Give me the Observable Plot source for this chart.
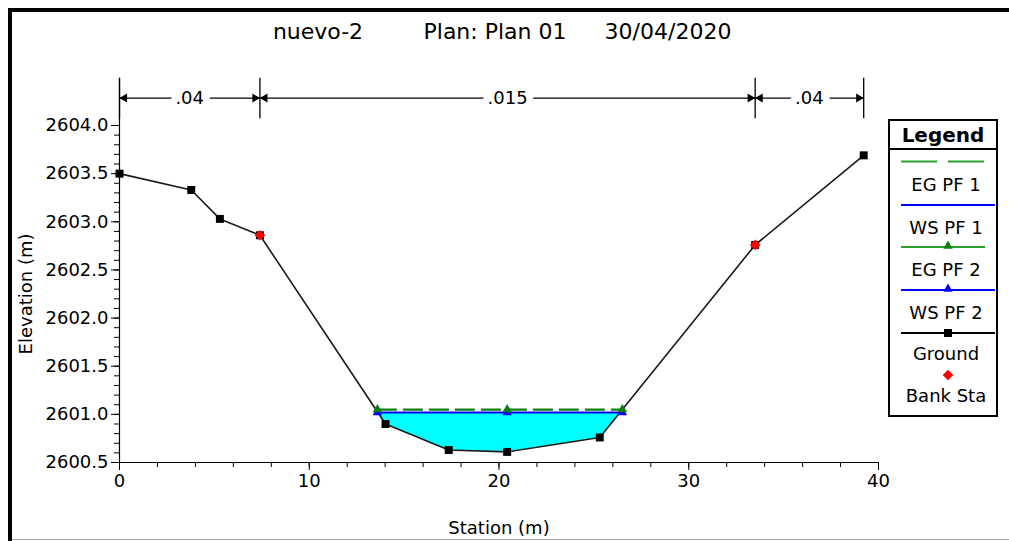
<!DOCTYPE html>
<html><head><meta charset="utf-8">
<script src="https://cdn.jsdelivr.net/npm/d3@7"></script>
<script src="https://cdn.jsdelivr.net/npm/@observablehq/plot@0.6"></script>
<style>
body{margin:0;background:#fff;font-family:"DejaVu Sans",sans-serif;}
#wrap{position:relative;width:1009px;height:541px;overflow:hidden;background:#fff;}
#chart{position:absolute;left:0;top:0;}
.t{position:absolute;top:31px;transform:translate(-50%,-50%);font-size:22px;white-space:pre;color:#000;}
#bl{position:absolute;left:8px;top:8px;width:4px;height:541px;background:#000;}
#bt{position:absolute;left:8px;top:8px;width:1001px;height:4px;background:#000;}
#bb{position:absolute;left:12px;top:539px;width:997px;height:1px;background:#aaa;}
#legend{position:absolute;left:888px;top:119px;}
</style></head><body>
<div id="wrap">
  <div id="chart"></div>
  <div class="t" style="left:318px">nuevo-2</div>
  <div class="t" style="left:495px">Plan: Plan 01</div>
  <div class="t" style="left:668px">30/04/2020</div>
  <svg id="legend" width="112" height="300"></svg>
  <div id="bl"></div><div id="bt"></div><div id="bb"></div>
</div>
<script>
// ---- data ----
const groundStation = [0, 3.78, 5.29, 7.4, 14.02, 17.35, 20.43, 25.31, 33.5, 39.22];
const groundElev    = [2603.50, 2603.33, 2603.03, 2602.86, 2600.90, 2600.63, 2600.61, 2600.76, 2602.76, 2603.69];
const bankStation   = [7.4, 33.5];
const bankElev      = [2602.86, 2602.76];
const wsElev = 2601.02;   // WS PF 1 / WS PF 2
const egElev = 2601.05;   // EG PF 1 / EG PF 2
const waterEdges = [13.59, 26.5];
const profileMarkStations = [13.59, 20.43, 26.5];
const nBreaks = [0, 7.4, 33.5, 39.22];
const nValues = [".04", ".015", ".04"];
const xTicks = [0, 10, 20, 30, 40];
const xMinor = [0, 2, 4, 6, 8, 10, 12, 14, 16, 18, 20, 22, 24, 26, 28, 30, 32, 34, 36, 38, 40];
const yTicks = [2600.5, 2601.0, 2601.5, 2602.0, 2602.5, 2603.0, 2603.5, 2604.0];
const yMinor = d3.range(26005, 26041).map(d => d / 10);

// ---- derived tables ----
const ground = groundStation.map((x, i) => ({x, y: groundElev[i]}));
const banks = bankStation.map((x, i) => ({x, y: bankElev[i]}));
const water = [
  {x: waterEdges[0], bed: wsElev},
  ...ground.filter(d => d.x > waterEdges[0] && d.x < waterEdges[1]).map(d => ({x: d.x, bed: d.y})),
  {x: waterEdges[1], bed: wsElev}
];
const marks = profileMarkStations.map(x => ({x}));
const segs = nValues.map((t, i) => ({a: nBreaks[i], b: nBreaks[i + 1], m: (nBreaks[i] + nBreaks[i + 1]) / 2, t}));
const yTop = 2604.0;
const annTop = yTop + 0.49, annBottom = yTop + 0.07, annArrow = yTop + 0.285;

const chart = Plot.plot({
  width: 1009, height: 541,
  marginLeft: 119, marginRight: 131, marginTop: 125, marginBottom: 79,
  x: {domain: [0, 40]},
  y: {domain: [2600.5, yTop]},
  style: {fontFamily: "DejaVu Sans", fontSize: "18px", color: "#000", background: "transparent", overflow: "visible"},
  marks: [
    Plot.areaY(water, {x: "x", y1: "bed", y2: () => wsElev, fill: "#00ffff", fillOpacity: 1}),
    Plot.line(ground, {x: "x", y: "y", stroke: "#1a1a1a", strokeWidth: 1.6}),
    Plot.ruleY([wsElev], {x1: waterEdges[0], x2: waterEdges[1], stroke: "#0000ff", strokeWidth: 2}),
    Plot.ruleY([egElev], {x1: waterEdges[0], x2: waterEdges[1], stroke: "#0f800f", strokeWidth: 2.2, strokeDasharray: "20,6"}),
    Plot.dot(marks, {x: "x", y: () => wsElev, symbol: "triangle", r: 3.5, fill: "#0000ff", stroke: "none"}),
    Plot.dot(marks, {x: "x", y: () => egElev, symbol: "triangle", r: 3.5, fill: "#0a7f0a", stroke: "none"}),
    Plot.dot(ground, {x: "x", y: "y", symbol: "square", r: 4.5, fill: "#000", stroke: "none"}),
    Plot.dot(banks, {x: "x", y: "y", symbol: "diamond2", r: 4.8, fill: "#ff0000", stroke: "none"}),
    // axes
    Plot.ruleY([2600.5], {stroke: "#000", strokeWidth: 1.2}),
    Plot.ruleX([0], {y1: () => 2600.5, y2: () => annTop, stroke: "#000", strokeWidth: 1.2}),
    Plot.axisX(xTicks, {tickSize: 8, tickPadding: 4, fontSize: 18, label: "Station (m)", labelAnchor: "center", labelOffset: 71, labelArrow: "none"}),
    Plot.axisX(xMinor, {tickSize: 5, text: null, label: null}),
    Plot.axisY(yTicks, {tickSize: 8, tickPadding: 3, fontSize: 18, tickFormat: d => d.toFixed(1), label: "Elevation (m)", labelAnchor: "center", labelOffset: 100, labelArrow: "none"}),
    Plot.axisY(yMinor, {tickSize: 5, text: null, label: null}),
    // Manning's n annotation
    Plot.ruleX(nBreaks, {y1: () => annBottom, y2: () => annTop, stroke: "#000", strokeWidth: 1.3}),
    Plot.ruleY(segs, {x1: "a", x2: "b", y: () => annArrow, stroke: "#000", strokeWidth: 1.2}),
    Plot.dot(segs, {x: "a", y: () => annArrow, symbol: "triangle", r: 3.3, rotate: -90, dx: 5, fill: "#000", stroke: "none"}),
    Plot.dot(segs, {x: "b", y: () => annArrow, symbol: "triangle", r: 3.3, rotate: 90, dx: -5, fill: "#000", stroke: "none"}),
    Plot.text(segs, {x: "m", y: () => annArrow, text: "t", fontSize: 18, fill: "#000", stroke: "#fff", strokeWidth: 14, paintOrder: "stroke"})
  ]
});
document.getElementById("chart").appendChild(chart);

// ---- legend ----
const lg = d3.select("#legend");
lg.append("rect").attr("x", 1).attr("y", 1).attr("width", 108).attr("height", 296).attr("fill", "#fff").attr("stroke", "#000").attr("stroke-width", 2);
lg.append("line").attr("x1", 1).attr("x2", 109).attr("y1", 30).attr("y2", 30).attr("stroke", "#000").attr("stroke-width", 2);
lg.append("text").attr("x", 55).attr("y", 15.5).attr("text-anchor", "middle").attr("dominant-baseline", "central")
  .attr("font-family", "DejaVu Sans").attr("font-weight", "bold").attr("font-size", 20).text("Legend");
const items = [
  {name: "EG PF 1", sy: 42.5, ty: 65, color: "#2ca02c", dash: "36,11", sym: null},
  {name: "WS PF 1", sy: 86, ty: 108, color: "#0000ff", dash: null, sym: null},
  {name: "EG PF 2", sy: 128, ty: 150, color: "#2ca02c", dash: null, sym: "tri", mcolor: "#0a7f0a", x2: 97},
  {name: "WS PF 2", sy: 171, ty: 193, color: "#0000ff", dash: null, sym: "tri", mcolor: "#0000ff"},
  {name: "Ground", sy: 214, ty: 234, color: "#000", dash: null, sym: "sq", mcolor: "#000"},
  {name: "Bank Sta", sy: 256, ty: 276, color: null, dash: null, sym: "dia", mcolor: "#ff0000"}
];
for (const it of items) {
  if (it.color) {
    const l = lg.append("line").attr("x1", 13).attr("x2", it.x2 || (it.dash ? 97 : 107)).attr("y1", it.sy).attr("y2", it.sy)
      .attr("stroke", it.color).attr("stroke-width", 2);
    if (it.dash) l.attr("stroke-dasharray", it.dash);
  }
  if (it.sym === "tri") lg.append("path").attr("d", d3.symbol(d3.symbolTriangle, 38)()).attr("transform", `translate(60,${it.sy - 1})`).attr("fill", it.mcolor);
  if (it.sym === "sq") lg.append("rect").attr("x", 56).attr("y", it.sy - 4).attr("width", 8).attr("height", 8).attr("fill", it.mcolor);
  if (it.sym === "dia") lg.append("path").attr("d", d3.symbol(d3.symbolDiamond2, 72)()).attr("transform", `translate(60,${it.sy})`).attr("fill", it.mcolor);
  lg.append("text").attr("x", 58).attr("y", it.ty).attr("text-anchor", "middle").attr("dominant-baseline", "central")
    .attr("font-family", "DejaVu Sans").attr("font-size", 18).text(it.name);
}
</script>
</body></html>
